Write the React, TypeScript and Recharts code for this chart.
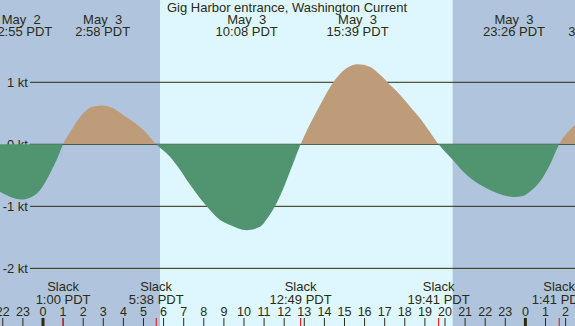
import React from "react";
import {
  ComposedChart,
  Area,
  XAxis,
  YAxis,
  ReferenceArea,
  ReferenceLine,
} from "recharts";

// hours since midnight May 3 (PDT) and current speed in knots
const hours = [
  -2.139, -1.642, -1.083, -0.647, -0.149, 0.348, 0.682, 1.0, 1.51, 2.0, 2.5,
  2.967, 3.5, 4.0, 4.5, 5.0, 5.633, 6.318, 6.816, 7.313, 7.811, 8.308, 8.806,
  9.303, 10.133, 10.8, 11.17, 11.54, 11.92, 12.29, 12.817, 13.78, 14.53, 15.11,
  15.65, 16.27, 16.77, 17.26, 17.76, 18.26, 18.76, 19.25, 19.683, 20.38, 20.9,
  21.4, 21.9, 22.4, 22.9, 23.433, 23.9, 24.23, 24.73, 25.22, 25.683, 26.468,
];
const knots = [
  -0.765, -0.845, -0.89, -0.86, -0.74, -0.47, -0.25, 0, 0.28, 0.5, 0.61, 0.625,
  0.58, 0.47, 0.36, 0.23, 0, -0.2, -0.41, -0.65, -0.87, -1.06, -1.22, -1.3,
  -1.385, -1.33, -1.19, -1.0, -0.74, -0.44, 0, 0.63, 1.04, 1.23, 1.29, 1.25,
  1.12, 0.96, 0.8, 0.61, 0.42, 0.2, 0, -0.25, -0.44, -0.58, -0.68, -0.76, -0.82,
  -0.85, -0.83, -0.76, -0.6, -0.33, 0, 0.31,
];

const gridKnots = [1, 0, -1, -2];
const gridLabels = ["1 kt", "0 kt", "-1 kt", "-2 kt"];

const hourTicks = [
  -2, -1, 0, 1, 2, 3, 4, 5, 6, 7, 8, 9, 10, 11, 12, 13, 14, 15, 16, 17, 18, 19,
  20, 21, 22, 23, 24, 25, 26,
];

const slackTimes = [1.0, 5.633, 12.817, 19.683, 25.683];
const slackLabels = ["1:00 PDT", "5:38 PDT", "12:49 PDT", "19:41 PDT", "1:41 PDT"];

const peakTimes = [-1.083, 2.967, 10.133, 15.65, 23.433, 27.5];
const peakDates = ["May  2", "May  3", "May  3", "May  3", "May  3", "May  4"];
const peakLabels = ["22:55 PDT", "2:58 PDT", "10:08 PDT", "15:39 PDT", "23:26 PDT", "3:30 PDT"];

const nightStart = [-2.139, 20.38];
const nightEnd = [5.82, 26.468];

const xDomain = [-2.139, 26.468];
const yDomain = [-2.93, 2.327];

const DAY = "#def7ff";
const NIGHT = "#b0c4de";
const FLOOD = "#be9c7a";
const EBB = "#509570";
const INK = "#2b2b12";
const FONT = "'Liberation Sans', Arial, sans-serif";

const data = hours.map((h, i) => ({ h, v: knots[i] }));
const maxV = Math.max(...knots);
const minV = Math.min(...knots);
const split = maxV / (maxV - minV);

const allTicks = [...hourTicks, ...slackTimes];

function HourTick(props: any) {
  const { x, index } = props;
  const isSlack = index >= hourTicks.length;
  if (isSlack) {
    return <line x1={x} x2={x} y1={318} y2={326} stroke="#ff0000" strokeWidth={1} />;
  }
  const h = hourTicks[index];
  const label = ((h % 24) + 24) % 24;
  const midnight = label === 0;
  return (
    <g>
      <line x1={x} x2={x} y1={318} y2={326} stroke={INK} strokeWidth={midnight ? 3 : 1} />
      <text x={x} y={316} textAnchor="middle" fill={INK} fontSize={12.5} fontFamily={FONT}>
        {label}
      </text>
    </g>
  );
}

export default function App() {
  return (
    <div style={{ position: "absolute", left: 0, top: 0, width: 575, height: 326, background: DAY }}>
      <ComposedChart
        width={575}
        height={326}
        data={data}
        margin={{ top: 0, right: 0, bottom: 0, left: 0 }}
      >
        <defs>
          <linearGradient id="flowFill" x1="0" y1="0" x2="0" y2="1">
            <stop offset={split} stopColor={FLOOD} />
            <stop offset={split} stopColor={EBB} />
          </linearGradient>
        </defs>
        <XAxis
          dataKey="h"
          type="number"
          domain={xDomain}
          allowDataOverflow
          ticks={allTicks}
          interval={0}
          mirror
          axisLine={false}
          tickLine={false}
          tick={<HourTick />}
        />
        <YAxis type="number" domain={yDomain} allowDataOverflow hide />

        {nightStart.map((s, i) => (
          <ReferenceArea
            key={"n" + i}
            x1={s}
            x2={nightEnd[i]}
            fill={NIGHT}
            fillOpacity={1}
            stroke="none"
            zIndex={-200}
          />
        ))}

        {gridKnots.map((k, i) => (
          <ReferenceLine
            key={"g" + i}
            segment={[
              { x: -0.647, y: k },
              { x: xDomain[1], y: k },
            ]}
            stroke={INK}
            strokeWidth={1}
            zIndex={50}
            label={(p: any) => (
              <text
                x={p.viewBox.x - 2}
                y={p.viewBox.y + 4.5}
                textAnchor="end"
                fill={INK}
                fontSize={13}
                fontFamily={FONT}
              >
                {gridLabels[i]}
              </text>
            )}
          />
        ))}

        <Area
          dataKey="v"
          type="monotone"
          baseValue={0}
          stroke="none"
          fill="url(#flowFill)"
          fillOpacity={1}
          dot={false}
          activeDot={false}
          isAnimationActive={false}
          zIndex={100}
        />

        {peakTimes.map((t, i) => (
          <ReferenceLine
            key={"p" + i}
            x={t}
            stroke="none"
            ifOverflow="visible"
            zIndex={2000}
            label={(p: any) => (
              <g>
                <text x={p.viewBox.x} y={24} textAnchor="middle" fill={INK} fontSize={13} fontFamily={FONT} style={{ whiteSpace: "pre" }}>
                  {peakDates[i]}
                </text>
                <text x={p.viewBox.x} y={36} textAnchor="middle" fill={INK} fontSize={13} fontFamily={FONT}>
                  {peakLabels[i]}
                </text>
              </g>
            )}
          />
        ))}

        {slackTimes.map((t, i) => (
          <ReferenceLine
            key={"s" + i}
            x={t}
            stroke="none"
            ifOverflow="visible"
            zIndex={2000}
            label={(p: any) => (
              <g>
                <text x={p.viewBox.x} y={291} textAnchor="middle" fill={INK} fontSize={13} fontFamily={FONT}>
                  Slack
                </text>
                <text x={p.viewBox.x} y={304} textAnchor="middle" fill={INK} fontSize={13} fontFamily={FONT}>
                  {slackLabels[i]}
                </text>
              </g>
            )}
          />
        ))}

        <text x={287} y={12} textAnchor="middle" fill={INK} fontSize={13} fontFamily={FONT}>
          Gig Harbor entrance, Washington Current
        </text>
      </ComposedChart>
    </div>
  );
}
